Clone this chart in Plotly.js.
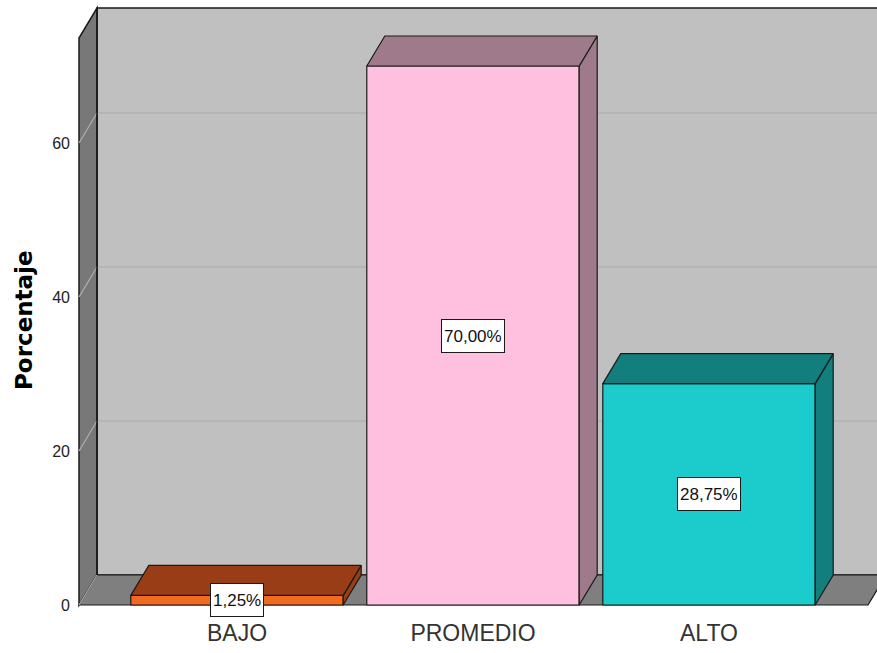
<!DOCTYPE html>
<html>
<head>
<meta charset="utf-8">
<script src="https://cdn.plot.ly/plotly-3.0.1.min.js"></script>
<style>
  html, body { margin: 0; padding: 0; background: #ffffff; }
  #chart { width: 877px; height: 653px; }
</style>
</head>
<body>
<div id="chart"></div>
<script>
// ---- data ----
const categories = ['BAJO', 'PROMEDIO', 'ALTO'];
const percentages = [1.25, 70.00, 28.75];
const yTickValues = [0, 20, 40, 60];

// ---- styling ----
const frontColors = ['#f26a21', '#ffc0e0', '#1ccccc'];
const depthColors = ['#993d17', '#9e7a8a', '#127e7e'];
const WALL_BACK = '#c0c0c0';
const WALL_SIDE = '#787878';
const FLOOR = '#7f7f7f';
const GRID = '#a8a8a8';
const EDGE = '#1a1a1a';
const SANS = 'Liberation Sans, Arial, sans-serif';

// ---- pixel scale of the front plane ----
const W = 877, H = 653;
const PX_PER_CAT = 236;     // pixels between category centres
const PX_PER_PCT = 7.7;     // pixels per percentage point
const CAT0_PX = 237;        // x pixel of first category centre
const ZERO_PX = 605;        // y pixel of value 0 on the front plane
const DOM_LEFT_PX = 72;
const DOM_BOTTOM_PX = 612;

const xRange = [(DOM_LEFT_PX - CAT0_PX) / PX_PER_CAT, (W - CAT0_PX) / PX_PER_CAT];
const yRange = [(ZERO_PX - DOM_BOTTOM_PX) / PX_PER_PCT, ZERO_PX / PX_PER_PCT];

// box of the 3D frame, in axis units
const X_LEFT = (79 - CAT0_PX) / PX_PER_CAT;
const X_RIGHT = (868 - CAT0_PX) / PX_PER_CAT;
const Y_TOP = (ZERO_PX - 38) / PX_PER_PCT;
const DX = 18 / PX_PER_CAT;    // depth offset, to the right
const DY = 30 / PX_PER_PCT;    // depth offset, upwards
const BAR_WIDTH = 0.9;

function pathOf(xs, ys) {
  return xs.map((x, i) => (i === 0 ? 'M' : 'L') + x + ',' + ys[i]).join(' ') + ' Z';
}

// walls, floor and grid go below the traces
const shapes = [];
// back wall
shapes.push({
  type: 'rect', layer: 'below', xref: 'x', yref: 'y',
  x0: X_LEFT + DX, x1: X_RIGHT + DX, y0: DY, y1: Y_TOP + DY,
  fillcolor: WALL_BACK, line: { color: EDGE, width: 1.5 }
});
// left wall
shapes.push({
  type: 'path', layer: 'below', xref: 'x', yref: 'y',
  path: pathOf([X_LEFT, X_LEFT, X_LEFT + DX, X_LEFT + DX], [0, Y_TOP, Y_TOP + DY, DY]),
  fillcolor: WALL_SIDE, line: { color: EDGE, width: 1.5 }
});
// floor
shapes.push({
  type: 'path', layer: 'below', xref: 'x', yref: 'y',
  path: pathOf([X_LEFT, X_RIGHT, X_RIGHT + DX, X_LEFT + DX], [0, 0, DY, DY]),
  fillcolor: FLOOR, line: { color: EDGE, width: 1.2 }
});
// grid lines on the back wall and the left wall
yTickValues.forEach(function (t) {
  if (t > 0) {
    shapes.push({
      type: 'line', layer: 'below', xref: 'x', yref: 'y',
      x0: X_LEFT + DX, x1: X_RIGHT + DX, y0: t + DY, y1: t + DY,
      line: { color: GRID, width: 1.2 }
    });
  }
  shapes.push({
    type: 'line', layer: 'below', xref: 'x', yref: 'y',
    x0: X_LEFT, x1: X_LEFT + DX, y0: t, y1: t + DY,
    line: { color: '#b0b0b0', width: 1.2 }
  });
});
// left edge of the back wall, drawn over the floor
shapes.push({
  type: 'line', layer: 'below', xref: 'x', yref: 'y',
  x0: X_LEFT + DX, x1: X_LEFT + DX, y0: DY, y1: Y_TOP + DY,
  line: { color: EDGE, width: 1.5 }
});

const xPos = categories.map((c, i) => i);
const traces = [];

// front faces of the bars
traces.push({
  type: 'bar', x: xPos, y: percentages, width: BAR_WIDTH,
  marker: { color: frontColors, line: { color: EDGE, width: 1.2 } },
  hoverinfo: 'skip', showlegend: false
});

// side and top faces of each bar
percentages.forEach(function (v, i) {
  const x0 = xPos[i] - BAR_WIDTH / 2, x1 = xPos[i] + BAR_WIDTH / 2;
  traces.push({
    type: 'scatter', mode: 'lines', fill: 'toself',
    x: [x1, x1, x1 + DX, x1 + DX, x1], y: [0, v, v + DY, DY, 0],
    fillcolor: depthColors[i], line: { color: EDGE, width: 1.2 },
    hoverinfo: 'skip', showlegend: false
  });
  traces.push({
    type: 'scatter', mode: 'lines', fill: 'toself',
    x: [x0, x1, x1 + DX, x0 + DX, x0], y: [v, v, v + DY, v + DY, v],
    fillcolor: depthColors[i], line: { color: EDGE, width: 1.2 },
    hoverinfo: 'skip', showlegend: false
  });
});

// value labels in the middle of each front face
const annotations = percentages.map(function (v, i) {
  return {
    x: xPos[i], y: v / 2, xref: 'x', yref: 'y',
    text: v.toFixed(2).replace('.', ',') + '%',
    showarrow: false, height: 28,
    font: { family: SANS, size: 17, color: '#111111' },
    bgcolor: '#ffffff', bordercolor: EDGE, borderwidth: 1, borderpad: 2
  };
});

// vertical axis title
annotations.push({
  xref: 'paper', yref: 'paper',
  x: 24 / W, y: 1 - 320 / H, xanchor: 'center', yanchor: 'middle',
  text: '<b>Porcentaje</b>', textangle: -90, showarrow: false,
  font: { family: 'DejaVu Sans, Liberation Sans, sans-serif', size: 23, color: '#000000' }
});

const layout = {
  width: W, height: H,
  margin: { l: 0, r: 0, t: 0, b: 0 },
  paper_bgcolor: '#ffffff', plot_bgcolor: 'rgba(0,0,0,0)',
  showlegend: false, hovermode: false,
  xaxis: {
    domain: [DOM_LEFT_PX / W, 1], range: xRange, fixedrange: true,
    tickvals: xPos, ticktext: categories,
    showgrid: false, zeroline: false, showline: false, ticks: '',
    tickfont: { family: SANS, size: 23, color: '#333333' },
    ticklabelstandoff: 5
  },
  yaxis: {
    domain: [(H - DOM_BOTTOM_PX) / H, 1], range: yRange, fixedrange: true,
    tickvals: yTickValues, ticktext: yTickValues.map(String),
    showgrid: false, zeroline: false, showline: false, ticks: '',
    tickfont: { family: SANS, size: 16, color: '#222222' },
    ticklabelstandoff: 1
  },
  shapes: shapes,
  annotations: annotations
};

Plotly.newPlot('chart', traces, layout, { staticPlot: true, displayModeBar: false });
</script>
</body>
</html>
